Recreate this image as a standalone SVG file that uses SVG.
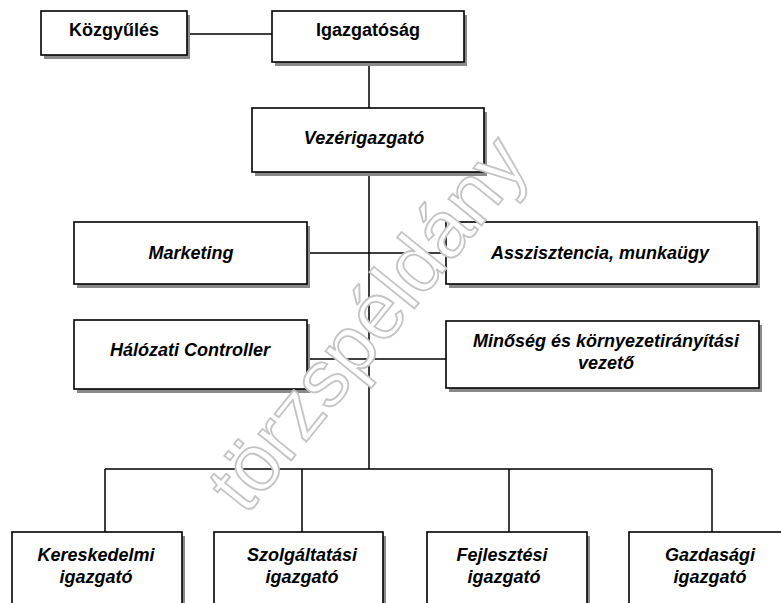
<svg xmlns="http://www.w3.org/2000/svg" width="781" height="603" viewBox="0 0 781 603">
<style>
.sh{fill:#8a8a8a}
.bx{fill:#fff;stroke:#000;stroke-width:1.6}
.t{font-family:"Liberation Sans",Arial,sans-serif;font-size:18px;font-weight:bold;font-style:italic;fill:#000;text-anchor:middle}
.u{font-style:normal}
.c{fill:none;stroke:#000;stroke-width:1.5}
.wm{font-family:"Liberation Sans",Arial,sans-serif;font-size:80px;fill:#fff;stroke:#c4c4c4;stroke-width:1.8;text-anchor:middle}
</style>
<rect width="781" height="603" fill="#fff"/>
<g id="connectors">
<path class="c" d="M187,34H272 M369,62V108 M369,172V469 M307,253H446 M307,359H446 M105,469H712 M105,469V532 M302,469V532 M509,469V532 M712,469V532"/>
</g>
<g id="kozgyules"><rect class="sh" x="44" y="15" width="146" height="44"/><rect class="bx" x="41" y="11" width="146" height="44"/><text class="t u" x="114" y="36">Közgyűlés</text></g>
<g id="igazgatosag"><rect class="sh" x="275" y="15" width="192" height="51"/><rect class="bx" x="272" y="11" width="192" height="51"/><text class="t u" x="368" y="36">Igazgatóság</text></g>
<g id="vezerigazgato"><rect class="sh" x="255" y="112" width="232" height="64"/><rect class="bx" x="252" y="108" width="232" height="64"/><text class="t" x="364" y="144">Vezérigazgató</text></g>
<g id="marketing"><rect class="sh" x="77" y="226" width="233" height="62"/><rect class="bx" x="74" y="222" width="233" height="62"/><text class="t" x="191" y="259">Marketing</text></g>
<g id="asszisztencia"><rect class="sh" x="449" y="226" width="311" height="62"/><rect class="bx" x="446" y="222" width="311" height="62"/><text class="t" x="600" y="259">Asszisztencia, munkaügy</text></g>
<g id="halozati"><rect class="sh" x="77" y="324" width="233" height="69"/><rect class="bx" x="74" y="320" width="233" height="69"/><text class="t" x="190" y="356">Hálózati Controller</text></g>
<g id="minoseg"><rect class="sh" x="449" y="325" width="313" height="67"/><rect class="bx" x="446" y="321" width="313" height="67"/><text class="t" x="606" y="347">Minőség és környezetirányítási</text><text class="t" x="606" y="369">vezető</text></g>
<g id="kereskedelmi"><rect class="sh" x="15" y="536" width="170" height="90"/><rect class="bx" x="12" y="532" width="170" height="90"/><text class="t" x="96" y="561">Kereskedelmi</text><text class="t" x="96" y="583">igazgató</text></g>
<g id="szolgaltatasi"><rect class="sh" x="217" y="536" width="169" height="90"/><rect class="bx" x="214" y="532" width="169" height="90"/><text class="t" x="302" y="561">Szolgáltatási</text><text class="t" x="302" y="583">igazgató</text></g>
<g id="fejlesztesi"><rect class="sh" x="430" y="536" width="160" height="90"/><rect class="bx" x="427" y="532" width="160" height="90"/><text class="t" x="502" y="561">Fejlesztési</text><text class="t" x="504" y="583">igazgató</text></g>
<g id="gazdasagi"><rect class="sh" x="632" y="536" width="170" height="90"/><rect class="bx" x="629" y="532" width="170" height="90"/><text class="t" x="710" y="561">Gazdasági</text><text class="t" x="710" y="583">igazgató</text></g>
<text class="wm" transform="translate(366,322) rotate(-51)" x="0" y="29">törzspéldány</text>
</svg>
